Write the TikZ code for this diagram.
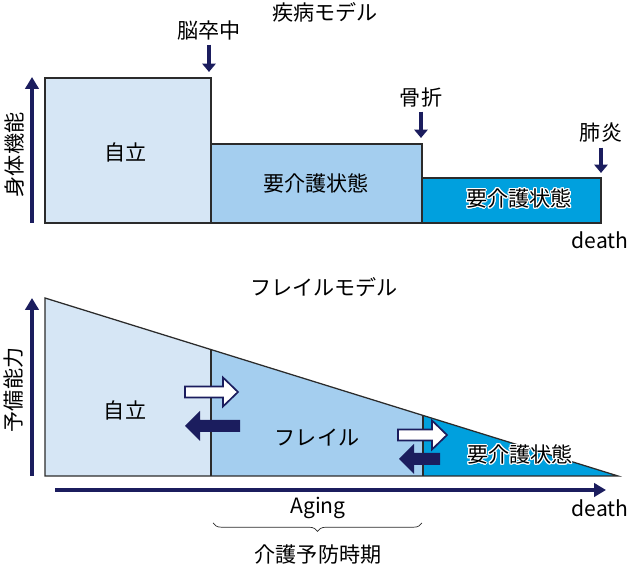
\documentclass[tikz,border=0pt]{standalone}
\usepackage{fontspec}
\setmainfont{Noto Sans CJK JP}
\usepackage[copies]{contour}
\contourlength{0.7pt}
\usetikzlibrary{arrows.meta,decorations.pathreplacing,positioning}

\definecolor{navy}{HTML}{1B1D5E}
\definecolor{paleblue}{HTML}{D6E6F5}
\definecolor{midblue}{HTML}{A4CEEF}
\definecolor{deepblue}{HTML}{00A0DE}
\definecolor{edge}{HTML}{2B2B2B}

\begin{document}
\begin{tikzpicture}[x=0.025cm,y=-0.025cm,
  font=\fontsize{15}{17}\selectfont,
  box/.style={draw=edge,line width=0.9pt},
  axis/.style={navy,line width=2.8pt,-{Triangle[length=8.5pt,width=9.5pt]}},
  hit/.style={navy,line width=2.2pt,-{Triangle[length=6pt,width=9.5pt]}},
  fwd/.style={draw=navy,fill=white,line width=1.2pt,line join=miter},
  back/.style={fill=navy}]
\useasboundingbox (0,0) rectangle (640,576);

% disease model
\node (title1) at (325,12) {疾病モデル};
\filldraw[box,fill=paleblue] (45,78) rectangle (211,223);
\filldraw[box,fill=midblue] (211,144) rectangle (422,223);
\filldraw[box,fill=deepblue] (422,178) rectangle (601,223);
\node (indep1) at (126,152) {自立};
\node (care1) at (316,183) {要介護状態};
\node (care2) at (519,199) {\contour{white}{要介護状態}};
\draw[axis] (32,223) -- (32,77);
\node[rotate=90] (physical) at (14,155) {身体機能};
\node (death1) at (600,240) {death};

\node (stroke) at (209,30) {脳卒中};
\coordinate (strokeend) at (209,72);
\draw[hit] (stroke.south) -- (strokeend);
\node (fracture) at (421,97) {骨折};
\coordinate (fractureend) at (421,138);
\draw[hit] (fracture.south) -- (fractureend);
\node (pneumonia) at (601,133) {肺炎};
\coordinate (pneumoniaend) at (601,173);
\draw[hit] (pneumonia.south) -- (pneumoniaend);

% frailty model
\node (title2) at (324,287) {フレイルモデル};
\coordinate (top) at (45,298);
\coordinate (bottom) at (45,476);
\coordinate (tip) at (618,476);
\filldraw[fill=paleblue,draw=none] (top) -- (bottom) -- (211,476) -- (211,349.6) -- cycle;
\filldraw[fill=midblue,draw=none] (211,349.6) -- (211,476) -- (423,476) -- (423,415.4) -- cycle;
\filldraw[fill=deepblue,draw=none] (423,415.4) -- (423,476) -- (tip) -- cycle;
\draw[box] (top) -- (bottom) -- (tip) -- cycle;
\draw[box] (211,349.6) -- (211,476);
\draw[box] (423,415.4) -- (423,476);

\node (indep2) at (125,410) {自立};
\node (frail) at (317,438) {フレイル};
\node (care3) at (520,455) {\contour{white}{要介護状態}};

% transitions
\filldraw[fwd] (185,392) ++(0,-5.5) -- ++(38,0) -- ++(0,-9) -- ++(15,14.5)
  -- ++(-15,14.5) -- ++(0,-9) -- ++(-38,0) -- cycle;
\fill[back] (240,426) ++(0,-6) -- ++(-40,0) -- ++(0,-9) -- ++(-15,15)
  -- ++(15,15) -- ++(0,-9) -- ++(40,0) -- cycle;
\filldraw[fwd] (398,435) ++(0,-5.5) -- ++(34,0) -- ++(0,-9) -- ++(15,14.5)
  -- ++(-15,14.5) -- ++(0,-9) -- ++(-34,0) -- cycle;
\fill[back] (440,459) ++(0,-6) -- ++(-26,0) -- ++(0,-9) -- ++(-15,15)
  -- ++(15,15) -- ++(0,-9) -- ++(26,0) -- cycle;

\draw[axis] (32,476) -- (32,298);
\node[rotate=90] (reserve) at (14,390) {予備能力};
\draw[axis] (55,490) -- (606,490);
\node (aging) at (318,508) {Aging};
\node (death2) at (600,508) {death};
\draw[edge,line width=0.5pt,decorate,decoration={brace,mirror,amplitude=6pt}]
  (213,523) -- (422,523);
\node (prevent) at (318,555) {介護予防時期};
\end{tikzpicture}
\end{document}
